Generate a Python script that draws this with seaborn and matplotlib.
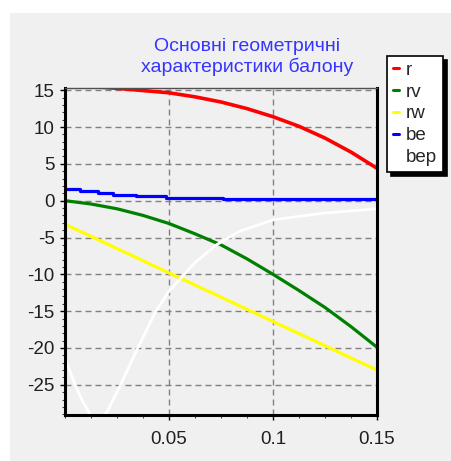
import numpy as np
import pandas as pd
import matplotlib
matplotlib.use("Agg")
import matplotlib.pyplot as plt
import matplotlib.ticker as mticker
from matplotlib.patches import Rectangle
import seaborn as sns

# ── data ─────────────────────────────────────────────────────────────
r_x = [0.0, 0.0125, 0.025, 0.0375, 0.05, 0.0625, 0.075, 0.0875, 0.1, 0.1125, 0.125, 0.1375, 0.15]
r_y = [15.6, 15.5, 15.25, 14.95, 14.65, 14.1, 13.4, 12.5, 11.4, 10.1, 8.5, 6.6, 4.4]

rv_x = [0.0, 0.0125, 0.025, 0.0375, 0.05, 0.0625, 0.075, 0.0875, 0.1, 0.1125, 0.125, 0.1375, 0.15]
rv_y = [0.0, -0.45, -1.1, -2.0, -3.1, -4.5, -6.0, -7.9, -10.0, -12.2, -14.5, -17.1, -19.9]

rw_x = [0.0, 0.05, 0.1, 0.15]
rw_y = [-3.2, -9.8, -16.4, -23.0]

be_x = [0.0, 0.0073, 0.016, 0.023, 0.034, 0.0485, 0.076, 0.15]
be_y = [1.63, 1.27, 1.05, 0.82, 0.59, 0.37, 0.17, 0.17]

bep_x = [0.0, 0.004, 0.008, 0.012, 0.016, 0.02, 0.0267, 0.03, 0.035, 0.0437, 0.05,
         0.0573, 0.0625, 0.0728, 0.0835, 0.1, 0.124, 0.15]
bep_y = [-21.4, -24.4, -27.0, -29.0, -29.7, -28.8, -25.0, -23.0, -20.0, -15.0, -12.3,
         -10.0, -8.4, -6.0, -4.2, -2.6, -1.7, -1.1]

series = [
    ("r", r_x, r_y, "#ff0000", 2.6),
    ("rv", rv_x, rv_y, "#008000", 2.3),
    ("rw", rw_x, rw_y, "#ffff00", 2.3),
    ("be", be_x, be_y, "#0000ff", 2.3),
    ("bep", bep_x, bep_y, "#ffffff", 2.0),
]

x_ticks = [0.05, 0.1, 0.15]
x_labels = ["0.05", "0.1", "0.15"]
y_ticks = [15, 10, 5, 0, -5, -10, -15, -20, -25]

sns.set_theme(style="ticks")
plt.rcParams["font.family"] = ["Liberation Sans", "DejaVu Sans"]

W, H = 451, 461
fig = plt.figure(figsize=(W / 100, H / 100), dpi=100, facecolor="white")
fig.patches.append(Rectangle((10 / W, 0), 1, 1 - 13 / H, transform=fig.transFigure,
                             facecolor="#f0f0f0", edgecolor="none", zorder=-10))
ax = fig.add_axes([65 / W, (H - 415) / H, 312 / W, 327 / H])
ax.set_facecolor("#f0f0f0")

for name, xs, ys, color, lw in series:
    df = pd.DataFrame({"x": xs, "y": ys})
    kws = {"drawstyle": "steps-post"} if name == "be" else {}
    sns.lineplot(data=df, x="x", y="y", color=color, linewidth=lw, label=name,
                 ax=ax, sort=False, estimator=None, **kws)

ax.set_xlim(0, 0.15)
ax.set_ylim(-29.1, 15.3)
ax.set_xticks(x_ticks)
ax.set_xticklabels(x_labels)
ax.set_yticks(y_ticks)
ax.set_yticklabels([str(v) for v in y_ticks])
ax.xaxis.set_minor_locator(mticker.MultipleLocator(0.0125))
ax.yaxis.set_minor_locator(mticker.MultipleLocator(1))
ax.set_xlabel("")
ax.set_ylabel("")

ax.grid(True, which="major", color="#808080", linestyle=(0, (4.3, 2.9)), linewidth=1.0)
ax.set_axisbelow(True)

ax.tick_params(which="major", direction="out", length=3.8, width=1.0, color="black",
               labelsize=13.5, labelcolor="#202020")
ax.tick_params(axis="x", which="major", pad=7.5)
ax.tick_params(axis="y", which="major", pad=3.5)
ax.tick_params(which="minor", direction="out", length=2.5, width=0.8, color="#404040")

for side in ["left", "bottom", "right"]:
    ax.spines[side].set_color("black")
    ax.spines[side].set_linewidth(2.2)
ax.spines["top"].set_color("#505050")
ax.spines["top"].set_linewidth(1.0)

fig.text(247 / W, 1 - 57 / H, "Основні геометричні\nхарактеристики балону",
         ha="center", va="center", color="#3535ff", fontsize=14, linespacing=1.15)

leg = ax.legend(loc="upper left", bbox_to_anchor=(387 / W, 1 - 56 / H),
                bbox_transform=fig.transFigure, borderaxespad=0,
                fontsize=13.5, handlelength=0.35, handletextpad=0.35,
                labelspacing=0.25, borderpad=0.3, fancybox=False,
                framealpha=1, edgecolor="black",
                shadow={"ox": 3, "oy": -3, "color": "black", "alpha": 1})
leg.get_frame().set_linewidth(1.2)
for line in leg.get_lines():
    line.set_linewidth(2.2)

fig.savefig("out.png", dpi=100, facecolor=fig.get_facecolor())
